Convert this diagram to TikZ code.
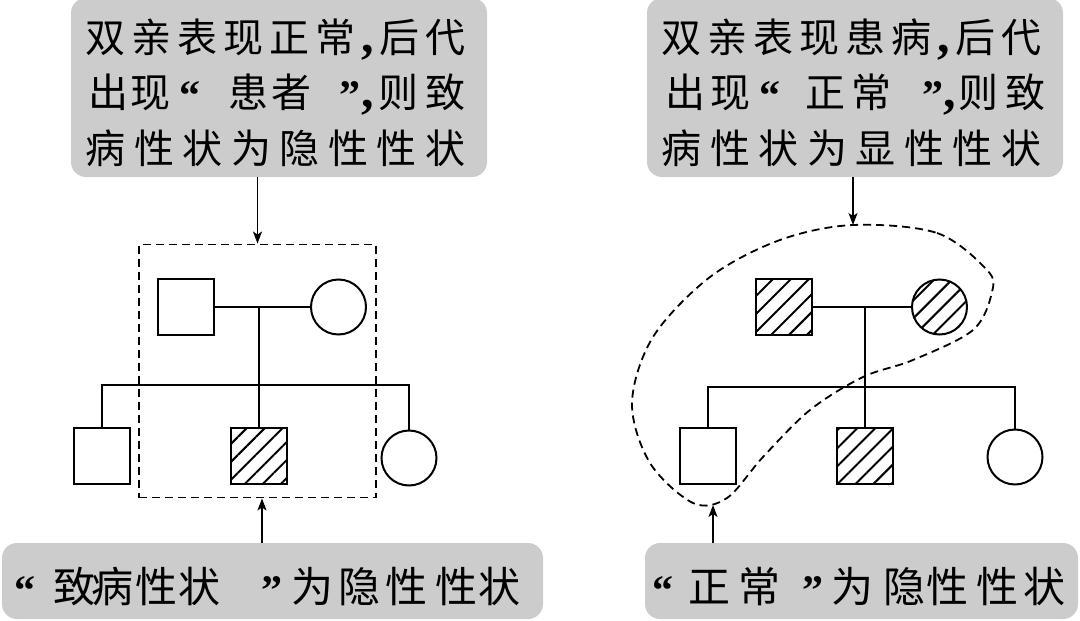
\documentclass[tikz,border=0pt]{standalone}
\usepackage{fontspec}
\newfontfamily\cjkfont{Noto Sans CJK SC}
\newfontfamily\latq{Liberation Serif}
\usetikzlibrary{arrows.meta,patterns.meta}
\newcommand\jline[2]{\makebox[#1][s]{#2}}
\newcommand\cell[2]{\makebox[#1pt][l]{#2}}
\newcommand\qm[1]{\raisebox{-2pt}{\latq\bfseries\fontsize{42}{42}\selectfont #1}}
\newcommand\cm{{\latq\bfseries\fontsize{50}{50}\selectfont ,}}
\begin{document}
\begin{tikzpicture}[x=1pt,y=-1pt,
  infobox/.style={fill=gray!40, rounded corners=15pt, inner sep=0pt},
  toptext/.style={anchor=base, inner sep=0pt, font=\cjkfont\fontsize{40}{56}\selectfont},
  bottext/.style={anchor=base, inner sep=0pt, font=\cjkfont\fontsize{42}{56}\selectfont},
  ped/.style={draw, line width=2pt, inner sep=0pt},
  male/.style={ped, rectangle, minimum size=56pt},
  female/.style={ped, circle, minimum size=55pt},
  hatched/.style={pattern={Lines[angle=45,distance=12.7pt,line width=2pt]}},
  link/.style={line width=2pt},
  arr/.style={line width=1.7pt, -{Stealth[length=12pt,width=9pt,inset=3pt]}},
  dashbox/.style={draw, line width=1.9pt, dash pattern=on 8pt off 5pt, inner sep=0pt},
  dashcurve/.style={line width=1.8pt, dash pattern=on 8pt off 5pt}
]
\useasboundingbox (0,0) rectangle (1080,621);

% info boxes
\node[infobox, minimum width=416pt, minimum height=179pt] (tl) at (279,87.5) {};
\node[infobox, minimum width=416pt, minimum height=179pt] (tr) at (855,87.5) {};
\node[infobox, minimum width=541pt, minimum height=76pt] (bl) at (272.5,581) {};
\node[infobox, minimum width=433pt, minimum height=76pt] (br) at (861.5,581) {};

\node[toptext] (tlt) at (275.5,52) {\begin{tabular}[t]{@{}c@{}}
  \jline{380pt}{双\hfill 亲\hfill 表\hfill 现\hfill 正\hfill 常\hfill\cm\hfill 后\hfill 代}\\
  \hspace*{3pt}\cell{42}{出}\cell{48.5}{现}\cell{49.5}{\qm{“}}\cell{43}{患}\cell{68.5}{者}\cell{21}{\qm{”}}\cell{17.5}{\cm}\cell{47}{则}\cell{40}{致}\\
  \jline{380pt}{病\hfill 性\hfill 状\hfill 为\hfill 隐\hfill 性\hfill 性\hfill 状}
  \end{tabular}};
\node[toptext] (trt) at (851.5,52) {\begin{tabular}[t]{@{}c@{}}
  \jline{380pt}{双\hfill 亲\hfill 表\hfill 现\hfill 患\hfill 病\hfill\cm\hfill 后\hfill 代}\\
  \hspace*{4pt}\cell{45}{出}\cell{48.5}{现}\cell{46.5}{\qm{“}}\cell{46}{正}\cell{70.5}{常}\cell{21}{\qm{”}}\cell{15.5}{\cm}\cell{47}{则}\cell{36}{致}\\
  \jline{380pt}{病\hfill 性\hfill 状\hfill 为\hfill 显\hfill 性\hfill 性\hfill 状}
  \end{tabular}};
\node[bottext] (blt) at (267.25,602)
 {\cell{39.5}{\qm{“}}\cell{38}{致}\cell{44}{病}\cell{43}{性}\cell{83.5}{状}\cell{29.5}{\qm{”}}\cell{47}{为}\cell{47}{隐}\cell{50}{性}\cell{43}{性}\cell{42}{状}};
\node[bottext] (brt) at (858.75,602)
 {\cell{36.5}{\qm{“}}\cell{50}{正}\cell{63.5}{常}\cell{29.5}{\qm{”}}\cell{52}{为}\cell{43}{隐}\cell{50}{性}\cell{47}{性}\cell{42}{状}};

% left pedigree
\node[dashbox, minimum width=237pt, minimum height=253pt] (dl) at (257.5,371) {};
\node[male] (f1) at (186,307) {};
\node[female] (m1) at (338.5,307) {};
\node[male] (c11) at (102,456) {};
\node[male, hatched] (c12) at (259,456) {};
\node[female] (c13) at (409,458) {};
\coordinate (sib1) at (259,385);
\draw[link] (f1.east) -- (m1.west);
\draw[link] (c12.north) -- (c12.north |- f1.east);
\draw[link] (c11.north) -- (c11.north |- sib1) -- (c13.north |- sib1) -- (c13.north);

% right pedigree
\node[male, hatched] (f2) at (784,307) {};
\node[female, hatched] (m2) at (939.5,307) {};
\node[male] (c21) at (708,456) {};
\node[male, hatched] (c22) at (865,456) {};
\node[female] (c23) at (1015,457) {};
\coordinate (sib2) at (865,387);
\draw[link] (f2.east) -- (m2.west);
\draw[link] (c22.north) -- (c22.north |- f2.east);
\draw[link] (c21.north) -- (c21.north |- sib2) -- (c23.north |- sib2) -- (c23.north);

% dashed blob
\draw[dashcurve] plot[smooth cycle, tension=0.55] coordinates {
 (853,225) (937,233) (987,270) (992,292) (973,330) (913,360) (863,377)
 (810,410) (763,457) (727,498) (693,503) (650,463) (632,403) (653,337)
 (710,277) (780,240)};
\coordinate (bt) at (853,225);
\coordinate (bb) at (713,505);

% arrows
\path (dl.south) ++(4.5,0) coordinate (ab1);
\draw[arr] (dl.north |- tl.south) -- (dl.north);
\draw[arr] (bl.north -| ab1) -- (ab1);
\draw[arr] (tr.south -| bt) -- (bt);
\draw[arr] (br.north -| bb) -- (bb);
\end{tikzpicture}
\end{document}
